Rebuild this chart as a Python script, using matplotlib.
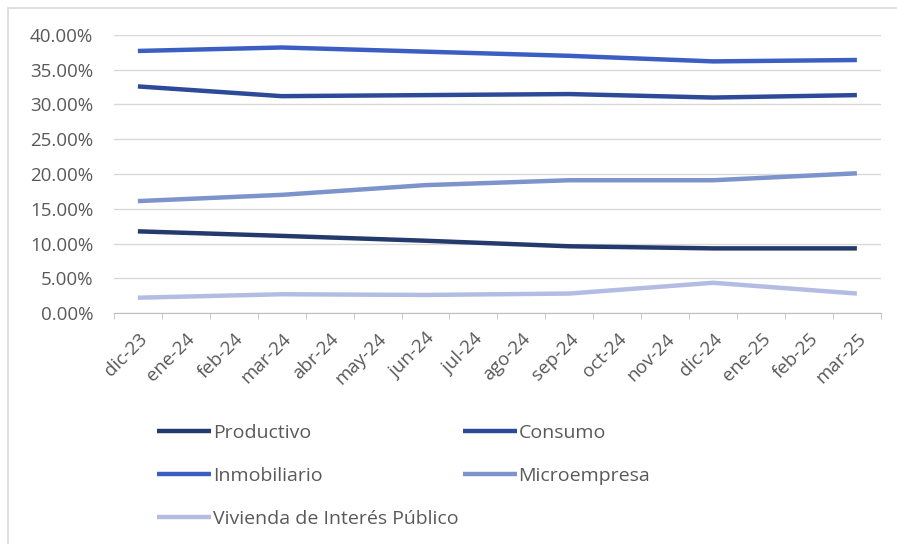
import matplotlib.pyplot as plt
from matplotlib.patches import Rectangle
from matplotlib.ticker import FixedLocator, PercentFormatter

plt.rcParams["font.family"] = ["Open Sans", "DejaVu Sans"]

MONTHS = [
    "dic-23", "ene-24", "feb-24", "mar-24", "abr-24", "may-24", "jun-24",
    "jul-24", "ago-24", "sep-24", "oct-24", "nov-24", "dic-24", "ene-25",
    "feb-25", "mar-25",
]

# quarterly observations (index into MONTHS)
QUARTER_IDX = [0, 3, 6, 9, 12, 15]

productivo = [11.75, 11.1, 10.4, 9.6, 9.3, 9.3]
consumo = [32.6, 31.2, 31.35, 31.5, 31.0, 31.35]
inmobiliario = [37.7, 38.2, 37.6, 37.0, 36.2, 36.4]
microempresa = [16.1, 17.0, 18.4, 19.1, 19.1, 20.1]
vivienda = [2.2, 2.7, 2.6, 2.8, 4.35, 2.8]

SERIES = [
    ("Productivo", productivo, "#243a6d"),
    ("Consumo", consumo, "#2d4a98"),
    ("Inmobiliario", inmobiliario, "#3a5ec2"),
    ("Microempresa", microempresa, "#7d93cb"),
    ("Vivienda de Interés Público", vivienda, "#b3bde3"),
]

TEXT_COLOR = "#595959"
TICK_SIZE = 13.5
LEGEND_SIZE = 14

fig = plt.figure(figsize=(8.97, 5.44), dpi=100)
ax = fig.add_axes([0.127, 0.4246, 0.855, 0.5111])

lines = {}
for name, values, color in SERIES:
    (line,) = ax.plot(QUARTER_IDX, values, color=color, lw=3.2,
                      solid_capstyle="butt", label=name)
    lines[name] = line

ax.set_xlim(-0.5, len(MONTHS) - 0.5)
ax.set_ylim(0, 40)
ax.yaxis.set_major_locator(FixedLocator([0, 5, 10, 15, 20, 25, 30, 35, 40]))
ax.yaxis.set_major_formatter(PercentFormatter(xmax=100, decimals=2))
ax.grid(axis="y", color="#d9d9d9", lw=1)
ax.set_axisbelow(True)

ax.set_xticks(range(len(MONTHS)))
ax.set_xticklabels(MONTHS, rotation=45, ha="right", rotation_mode="anchor")
ax.set_xticks([i - 0.5 for i in range(len(MONTHS) + 1)], minor=True)
ax.tick_params(axis="x", which="major", length=0, pad=12,
               labelsize=TICK_SIZE, labelcolor=TEXT_COLOR)
ax.tick_params(axis="x", which="minor", length=4, color="#bfbfbf")
ax.tick_params(axis="y", length=0, pad=15, labelsize=TICK_SIZE,
               labelcolor=TEXT_COLOR)

for side in ["top", "right", "left"]:
    ax.spines[side].set_visible(False)
ax.spines["bottom"].set_color("#bfbfbf")

# legend laid out row by row: two per row
order = ["Productivo", "Inmobiliario", "Vivienda de Interés Público",
         "Consumo", "Microempresa"]
fig.legend(
    [lines[n] for n in order], order,
    loc="upper left", bbox_to_anchor=(0.1645, 0.238),
    ncol=2, frameon=False, fontsize=LEGEND_SIZE, labelcolor=TEXT_COLOR,
    handlelength=2.75, handletextpad=0.1, columnspacing=0.25,
    labelspacing=1.28, borderpad=0,
)

# chart frame
fig.patches.append(Rectangle(
    (8 / 897, -0.1), 1.2, 1 - 8 / 544 + 0.1,
    transform=fig.transFigure, fill=False, edgecolor="#d9d9d9", lw=1.2,
))

fig.savefig("out.png", dpi=100)
